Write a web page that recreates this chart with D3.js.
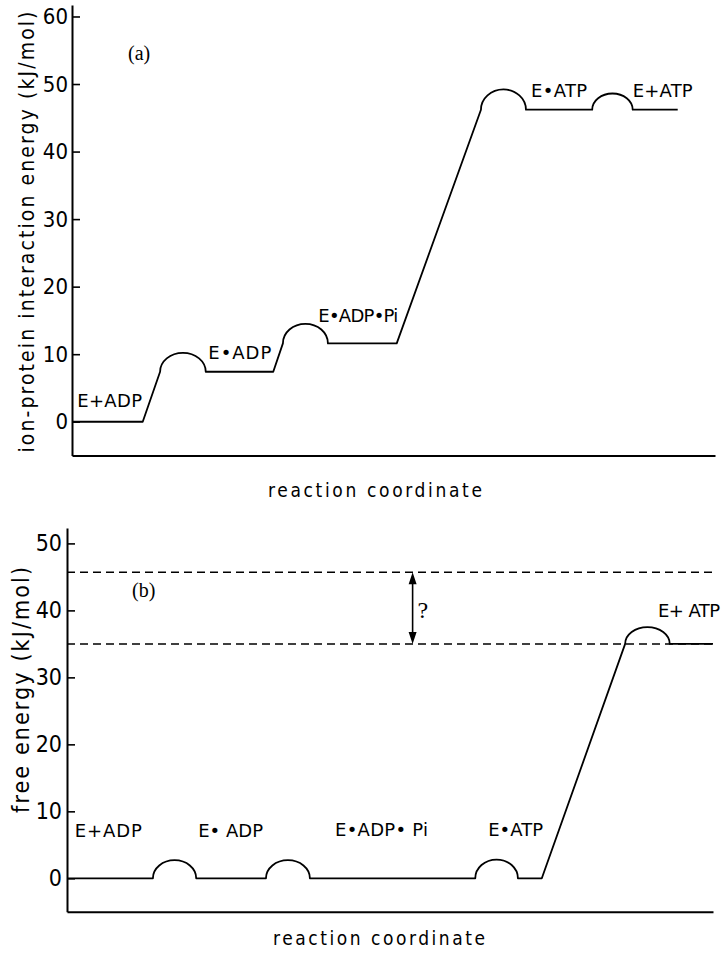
<!DOCTYPE html>
<html>
<head>
<meta charset="utf-8">
<script src="https://cdn.jsdelivr.net/npm/d3@7"></script>
<style>
  html, body { margin: 0; padding: 0; background: #fff; }
  svg { display: block; }
  text { fill: #000; }
</style>
</head>
<body>
<svg id="chart" width="722" height="953"></svg>
<script>
// ---------------- DATA ----------------
// Panel (a): ion-protein interaction energy (kJ/mol) along reaction coordinate (0-100)
const topStateNames   = ["E+ADP", "E\u2022ADP", "E\u2022ADP\u2022Pi", "E\u2022ATP", "E+ATP"];
const topStateLevels  = [0, 7.4, 11.6, 46.2, 46.2];
const topStateStart   = [0, 20.8, 39.8, 70.6, 87.2];
const topStateEnd     = [11.0, 31.3, 50.5, 80.9, 94.2];
const topBumpStart    = [13.7, 32.8, 63.6, 80.9];
const topBarrierPeaks = [10.2, 14.5, 49.2, 48.6];
const topTicks        = [0, 10, 20, 30, 40, 50, 60];

// Panel (b): free energy (kJ/mol)
const botStateNames   = ["E+ADP", "E\u2022 ADP", "E\u2022ADP\u2022 Pi", "E\u2022ATP", "E+ ATP"];
const botStateLevels  = [0, 0, 0, 0, 35.0];
const botStateStart   = [0, 20.0, 37.6, 69.8, 93.3];
const botStateEnd     = [13.3, 30.8, 63.2, 73.5, 100];
const botBumpStart    = [13.3, 30.8, 63.2, 86.4];
const botBarrierPeaks = [2.7, 2.7, 2.8, 37.5];
const botTicks        = [0, 10, 20, 30, 40, 50];
const botDashedLevels = [45.7, 35.0];
const botArrowX       = 53.5;

// Label anchors (reaction coordinate, energy) and widths
const topLabelAt = [[0.8, 2.2], [21.2, 9.3], [38.3, 14.8], [71.4, 48.1], [87.2, 48.1]];
const topLabelW  = [65, 63, 80, 56, 60];
const botLabelAt = [[1.2, 6.2], [20.3, 6.2], [41.5, 6.3], [65.2, 6.3], [91.5, 39.0]];
const botLabelW  = [67, 65, 93, 55, 62];

// ---------------- DRAW ----------------
const svg = d3.select("#chart");
const LABEL_FONT = "'DejaVu Sans', sans-serif";
const TICK_FONT = "'DejaVu Sans Condensed', 'DejaVu Sans', sans-serif";

function profilePath(x, y, levels, starts, ends, bumpStarts, peaks) {
  let d = `M${x(starts[0])},${y(levels[0])}H${x(ends[0])}`;
  for (let i = 0; i < peaks.length; i++) {
    const L = levels[i + 1];
    const xs = x(bumpStarts[i]), xe = x(starts[i + 1]);
    d += `L${xs},${y(L)}`;
    const rx = (xe - xs) / 2, ry = y(L) - y(peaks[i]);
    d += `A${rx},${ry} 0 0 1 ${xe},${y(L)}`;
    d += `H${x(ends[i + 1])}`;
  }
  return d;
}

function drawPanel(cfg) {
  const g = svg.append("g");
  const x = d3.scaleLinear([0, 100], cfg.xRange);
  const y = d3.scaleLinear(cfg.yDomain, cfg.yRange);

  const yAx = g.append("g")
    .attr("transform", `translate(${cfg.xRange[0]},0)`)
    .call(d3.axisLeft(y).tickValues(cfg.ticks).tickFormat(d3.format("d"))
      .tickSizeInner(-8).tickSizeOuter(0).tickPadding(cfg.tickPad));
  yAx.select(".domain").attr("stroke", "#000").attr("stroke-width", 2);
  yAx.selectAll(".tick line").attr("stroke", "#000").attr("stroke-width", 1.6);
  yAx.selectAll(".tick text").attr("font-family", TICK_FONT)
    .attr("font-size", cfg.tickSize).attr("fill", "#000");

  const xAx = g.append("g")
    .attr("transform", `translate(0,${cfg.yRange[0]})`)
    .call(d3.axisBottom(x).tickValues([]).tickSizeOuter(0));
  xAx.select(".domain").attr("stroke", "#000").attr("stroke-width", 2);

  if (cfg.dashed) {
    g.selectAll("line.dash").data(cfg.dashed).join("line")
      .attr("class", "dash")
      .attr("x1", x(0)).attr("x2", x(100))
      .attr("y1", d => y(d)).attr("y2", d => y(d))
      .attr("stroke", "#000").attr("stroke-width", 1.5)
      .attr("stroke-dasharray", "8,5");
  }

  g.append("path")
    .attr("d", profilePath(x, y, cfg.levels, cfg.starts, cfg.ends, cfg.bumpStarts, cfg.peaks))
    .attr("fill", "none").attr("stroke", "#000").attr("stroke-width", 1.8)
    .attr("stroke-linejoin", "round");

  g.selectAll("text.state").data(cfg.names).join("text")
    .attr("class", "state")
    .attr("x", (d, i) => x(cfg.labelAt[i][0]))
    .attr("y", (d, i) => y(cfg.labelAt[i][1]))
    .attr("textLength", (d, i) => cfg.labelW[i])
    .attr("lengthAdjust", "spacing")
    .attr("font-family", LABEL_FONT).attr("font-size", 18)
    .style("white-space", "pre")
    .text(d => d);

  // panel letter
  g.append("text")
    .attr("x", cfg.letterPos[0]).attr("y", cfg.letterPos[1])
    .attr("font-family", "'Liberation Serif', 'DejaVu Serif', serif")
    .attr("font-size", 20).text(cfg.letter);

  // axis titles
  g.append("text")
    .attr("transform", `translate(${cfg.yTitlePos[0]},${cfg.yTitlePos[1]}) rotate(-90)`)
    .attr("text-anchor", "middle")
    .attr("font-family", TICK_FONT).attr("font-size", cfg.yTitleSize)
    .attr("textLength", cfg.yTitleLen).attr("lengthAdjust", "spacing")
    .text(cfg.yTitle);
  g.append("text")
    .attr("x", cfg.xTitlePos[0]).attr("y", cfg.xTitlePos[1])
    .attr("text-anchor", "middle")
    .attr("font-family", TICK_FONT).attr("font-size", 19)
    .attr("textLength", cfg.xTitleLen).attr("lengthAdjust", "spacing")
    .text("reaction coordinate");

  return { g, x, y };
}

drawPanel({
  xRange: [72, 715], yDomain: [-5, 61.7], yRange: [455.5, 5],
  ticks: topTicks, tickPad: 4, tickSize: 22,
  levels: topStateLevels, starts: topStateStart, ends: topStateEnd,
  bumpStarts: topBumpStart, peaks: topBarrierPeaks,
  names: topStateNames, labelAt: topLabelAt, labelW: topLabelW,
  letter: "(a)", letterPos: [128, 60],
  yTitle: "ion-protein interaction energy (kJ/mol)", yTitlePos: [34, 232], yTitleLen: 441, yTitleSize: 21,
  xTitlePos: [375, 497], xTitleLen: 214
});

const bot = drawPanel({
  xRange: [67, 713], yDomain: [-5, 52.3], yRange: [911.8, 528],
  ticks: botTicks, tickPad: 5, tickSize: 23,
  levels: botStateLevels, starts: botStateStart, ends: botStateEnd,
  bumpStarts: botBumpStart, peaks: botBarrierPeaks,
  names: botStateNames, labelAt: botLabelAt, labelW: botLabelW,
  dashed: botDashedLevels,
  letter: "(b)", letterPos: [132, 597],
  yTitle: "free energy (kJ/mol)", yTitlePos: [29, 690], yTitleLen: 246, yTitleSize: 23,
  xTitlePos: [379, 945], xTitleLen: 212
});

// double arrow with "?"
{
  const { g, x, y } = bot;
  const ax = x(botArrowX);
  const yTop = y(d3.max(botDashedLevels)), yBot = y(d3.min(botDashedLevels));
  const head = 12, hw = 4;
  g.append("line").attr("x1", ax).attr("x2", ax)
    .attr("y1", yTop + head - 1).attr("y2", yBot - head + 1)
    .attr("stroke", "#000").attr("stroke-width", 1.6);
  g.append("path")
    .attr("d", `M${ax},${yTop}L${ax - hw},${yTop + head}L${ax + hw},${yTop + head}Z` +
               `M${ax},${yBot}L${ax - hw},${yBot - head}L${ax + hw},${yBot - head}Z`)
    .attr("fill", "#000");
  g.append("text").attr("x", ax + 5).attr("y", (yTop + yBot) / 2 + 10)
    .attr("font-family", "'Liberation Serif', 'DejaVu Serif', serif")
    .attr("font-size", 24).text("?");
}
</script>
</body>
</html>
